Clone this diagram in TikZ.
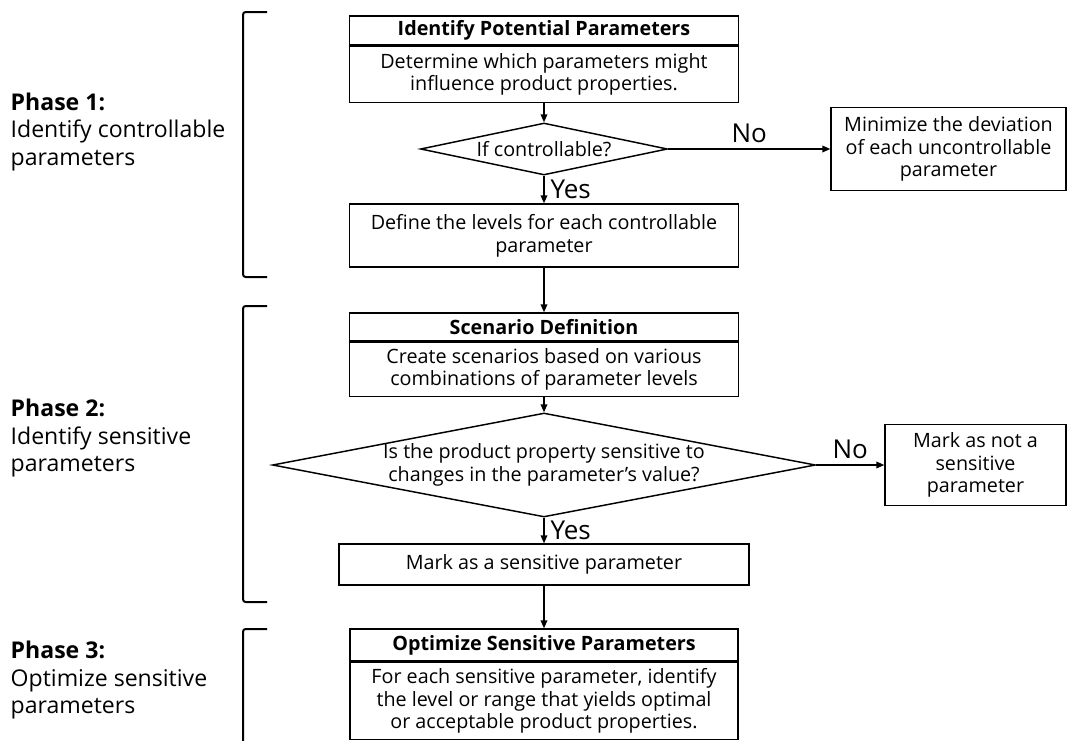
\documentclass[tikz,border=0pt]{standalone}
\usepackage{fontspec}
\setmainfont{Open Sans}
\usetikzlibrary{arrows.meta,positioning,shapes.geometric}

\begin{document}
\begin{tikzpicture}[x=0.75pt,y=-0.75pt,>={Triangle[length=6pt,width=5pt]},
		box/.style={draw,line width=1.1pt,align=center,inner sep=0pt,font=\fontsize{14.8}{17}\selectfont},
		head/.style={box,font=\bfseries\fontsize{14.8}{17}\selectfont},
		decision/.style={draw,diamond,line width=1.1pt,inner sep=0pt},
		flow/.style={->,line width=1.1pt},
		answer/.style={font=\fontsize{19.5}{22}\selectfont},
		phase/.style={align=left,anchor=west,font=\fontsize{17.3}{20.5}\selectfont},
		bracket/.style={line width=1.5pt,rounded corners=2pt}]
		\useasboundingbox (0,0) rectangle (1068,740);
		% phase 1
		\node[head,minimum width=291.75pt,minimum height=21.75pt] (identT) at (544,30.5) {Identify Potential Parameters};
		\node[box,minimum width=291.75pt,minimum height=42pt,below=0pt of identT] (identB) {Determine which parameters might\\influence product properties.};
		\node[decision,minimum width=185.25pt,minimum height=39pt] (ctrl) at (544,149) {};
		\node[box,draw=none] (ctrltxt) at (ctrl.center) {If controllable?};
		\node[box,minimum width=176.25pt,minimum height=62.25pt] (minim) at (948.5,149) {Minimize the deviation\\of each uncontrollable\\parameter};
		\node[box,minimum width=291.75pt,minimum height=47.25pt] (levels) at (544,235.5) {Define the levels for each controllable\\parameter};
		% phase 2
		\node[head,minimum width=291.75pt,minimum height=21pt] (scenT) at (544,327) {Scenario Definition};
		\node[box,minimum width=291.75pt,minimum height=40.5pt,below=0pt of scenT] (scenB) {Create scenarios based on various\\combinations of parameter levels};
		\node[decision,minimum width=407.25pt,minimum height=78pt] (sens) at (544,465) {};
		\node[box,draw=none] (senstxt) at (sens.center) {Is the product property sensitive to\\changes in the parameter’s value?};
		\node[box,minimum width=135.75pt,minimum height=60.75pt] (notsens) at (975.5,465) {Mark as not a\\sensitive\\parameter};
		\node[box,minimum width=307.5pt,minimum height=30.75pt] (mark) at (544,564.5) {Mark as a sensitive parameter};
		% phase 3
		\node[head,minimum width=291pt,minimum height=24pt] (optT) at (544,645) {Optimize Sensitive Parameters};
		\node[box,minimum width=291pt,minimum height=57.75pt,below=0pt of optT] (optB) {For each sensitive parameter, identify\\the level or range that yields optimal\\or acceptable product properties.};
		% connectors
		\draw[flow] (identB.south) -- (ctrl.north);
		\draw[flow] (ctrl.south) -- (levels.north) node[midway,right=1pt,answer]{Yes};
		\draw[flow] (ctrl.east) -- (minim.west) node[midway,above=1pt,answer]{No};
		\draw[flow] (levels.south) -- (scenT.north);
		\draw[flow] (scenB.south) -- (sens.north);
		\draw[flow] (sens.south) -- (mark.north) node[midway,right=1pt,answer]{Yes};
		\draw[flow] (sens.east) -- (notsens.west) node[midway,above=1pt,answer]{No};
		\draw[flow] (mark.south) -- (optT.north);
		% brackets and phase labels
		\draw[bracket] (267,12) -- (243,12) -- (243,277) -- (267,277);
		\draw[bracket] (267,306) -- (243,306) -- (243,602) -- (267,602);
		\draw[bracket] (267,629) -- (243,629) -- (243,745);
		\node[phase] (phaseA) at (6,132) {\textbf{Phase 1:}\\Identify controllable\\parameters};
		\node[phase] (phaseB) at (6,438) {\textbf{Phase 2:}\\Identify sensitive\\parameters};
		\node[phase] (phaseC) at (6,680) {\textbf{Phase 3:}\\Optimize sensitive\\parameters};
\end{tikzpicture}
\end{document}
